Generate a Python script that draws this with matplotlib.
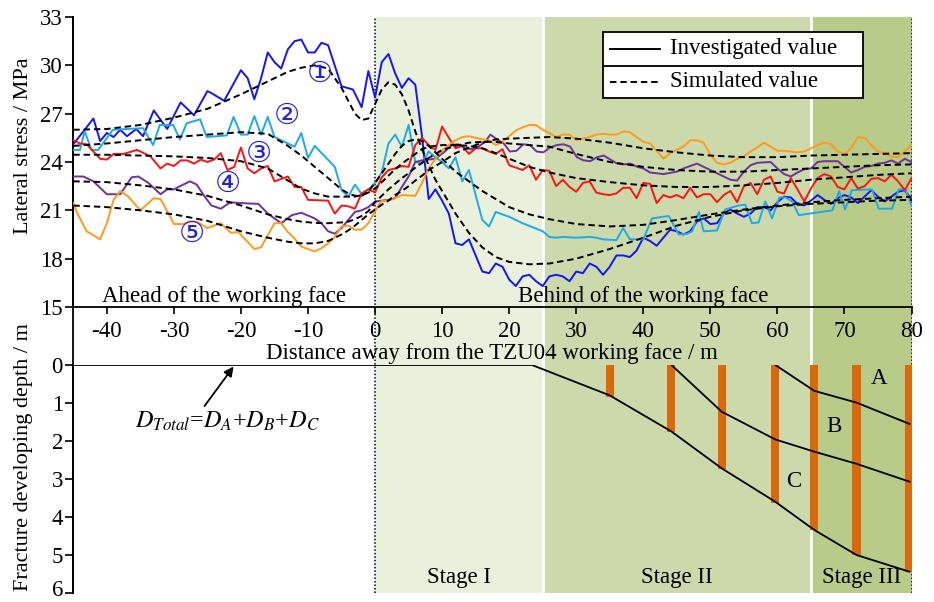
import matplotlib
matplotlib.use('Agg')
import matplotlib.pyplot as plt
from matplotlib.lines import Line2D
from matplotlib.patches import Rectangle
from matplotlib.transforms import ScaledTranslation

plt.rcParams['font.family'] = ['Liberation Serif', 'DejaVu Sans']
plt.rcParams['mathtext.fontset'] = 'stix'
plt.rcParams['axes.unicode_minus'] = False

# ---------------- data: investigated lateral stress (MPa) ----------------
blue_x = [-45, -42, -41, -40, -39, -38, -37, -35.6, -34.6, -33,
          -31, -29, -27, -25, -24.5, -22.5, -20, -19, -18, -17,
          -16, -15, -14, -13, -12, -11, -10, -9, -8, -7,
          -5, -3.3, -2, -1, 0, 1, 2, 3, 4, 5,
          6, 7, 8, 9, 10, 11, 12, 13, 14, 15,
          16, 17, 18, 19, 20, 21, 22, 23, 24, 25,
          26, 27, 28, 29, 30, 31, 32, 33, 34, 35,
          36, 37, 38, 39, 40, 41, 42, 43, 44, 45,
          46, 47, 48, 49, 50, 51, 52, 53, 54, 55,
          56, 57, 58, 59, 60, 61, 62, 63, 64, 65,
          66, 67, 68, 69, 70, 71, 72, 73, 74, 75,
          76, 77, 78, 79, 80]
blue_y = [25.1, 26.7, 25.3, 25.8, 25.55, 26.0, 25.6, 26.05, 25.6, 27.2,
          26.05, 27.7, 26.9, 28.4, 28.3, 27.8, 29.7, 29.2, 27.9, 29.2,
          30.8, 30.2, 29.8, 31.0, 31.5, 31.6, 30.8, 30.8, 31.4, 31.25,
          28.7, 28.5, 27.4, 29.65, 28.0, 30.2, 30.7, 29.5, 28.6, 29.2,
          28.8, 25.6, 21.7, 22.3, 21.6, 20.8, 18.95, 18.85, 19.2, 18.2,
          17.2, 17.1, 17.7, 17.5, 16.7, 16.3, 16.9, 17.0, 16.6, 16.3,
          16.9, 17.0, 16.9, 16.6, 17.2, 17.1, 17.7, 17.5, 17.0, 17.5,
          18.2, 18.2, 18.1, 18.5, 19.3, 19.1, 18.8, 19.3, 19.8, 19.7,
          19.5, 19.7, 20.3, 20.5, 20.15, 20.2, 20.8, 21.05, 20.8, 20.6,
          20.8, 21.2, 21.2, 21.0, 21.5, 21.85, 21.8, 21.4, 21.3, 21.6,
          21.95, 21.65, 21.4, 21.75, 21.95, 21.8, 21.45, 21.85, 22.25, 21.85,
          21.55, 21.85, 22.15, 22.25, 21.65]

cyan_x = [-45, -44, -43.3, -42.3, -41.3, -39.1, -37, -34.6, -33.1, -32.1,
          -30.1, -29.1, -28.1, -26.1, -25.1, -22.1, -21.1, -20, -19, -18,
          -17, -16, -15, -12, -11, -10, -9, -6, -5, -4,
          -3, -2, -1, 0, 1, 2, 3, 4, 5, 6,
          7, 8, 9, 10, 11, 12, 13, 14, 16, 17,
          18, 20, 22, 25, 26, 27, 28, 30, 32, 33,
          34, 36, 37, 38, 40, 41.3, 43.8, 45.3, 46.6, 47.3,
          48.3, 49, 51, 52.2, 54.2, 55.2, 56.2, 57.2, 58.2, 59.2,
          60.3, 61.2, 62.2, 63.2, 68.2, 69.2, 70.1, 71.1, 74.1, 75.1,
          77.1, 78.1, 79.1, 80]
cyan_y = [24.75, 24.75, 25.9, 24.75, 24.75, 26.0, 26.05, 26.1, 25.05, 26.3,
          26.3, 25.4, 26.4, 26.65, 25.55, 25.65, 26.8, 25.7, 25.7, 26.85,
          25.7, 26.8, 25.55, 24.95, 25.8, 24.25, 25.0, 23.7, 22.25, 21.85,
          22.6, 22.0, 22.3, 22.7, 23.35, 25.15, 25.7, 24.95, 26.3, 24.0,
          23.9, 24.65, 24.3, 24.0, 23.6, 24.3, 22.8, 23.5, 20.4, 20.0,
          20.9, 20.6, 20.2, 19.7, 19.35, 19.3, 19.35, 19.3, 19.35, 19.3,
          19.2, 19.15, 19.9, 19.2, 19.2, 20.5, 20.65, 19.5, 19.55, 19.7,
          20.9, 19.7, 19.75, 21.05, 21.3, 21.35, 20.2, 20.25, 21.55, 20.5,
          21.8, 21.8, 21.55, 20.7, 21.0, 22.2, 21.05, 22.25, 22.3, 21.1,
          21.1, 22.3, 22.3, 21.3]

red_x = [-45, -44, -43, -42, -41, -40, -39, -37.5, -35.5, -33.5,
         -32, -31, -30, -29, -28, -27, -26, -25, -24, -23,
         -22, -21, -20, -19, -18, -17, -16, -15, -13, -12,
         -11, -10, -7, -6, -5, -4, -3, -2, -1, 0,
         1, 2, 3, 4, 5, 6, 7, 8, 9, 10,
         11, 12, 13, 14, 15, 16, 17, 18, 19, 20,
         21, 22, 23, 24, 25, 26, 27, 28, 29, 30,
         31, 32, 33, 34, 35, 36, 37, 38, 39, 40,
         41, 42, 43, 44, 45, 46, 47, 48, 49, 50,
         51, 52, 53, 54, 55, 56, 57, 58, 59, 60,
         61, 62, 63, 64, 65, 66, 67, 68, 69, 70,
         71, 72, 73, 74, 75, 76, 77, 78, 79, 80]
red_y = [25.35, 25.15, 25.1, 24.65, 24.2, 24.15, 24.5, 24.5, 24.75, 24.35,
         23.6, 23.9, 23.75, 24.1, 24.1, 23.9, 24.15, 24.0, 24.15, 24.55,
         23.5, 23.7, 24.9, 23.6, 23.3, 23.6, 23.75, 22.8, 23.1, 22.45,
         22.45, 21.65, 21.6, 20.8, 21.3, 21.25, 21.1, 22.05, 22.3, 22.1,
         23.05, 23.5, 23.6, 23.75, 23.7, 25.05, 25.5, 25.05, 24.75, 26.2,
         25.5, 24.85, 25.0, 24.5, 24.85, 24.85, 24.65, 24.5, 24.8, 23.8,
         23.65, 23.5, 23.8, 22.9, 23.5, 23.45, 22.5, 22.9, 22.45, 22.15,
         22.7, 22.8, 22.1, 22.0, 21.95, 22.05, 22.4, 22.4, 21.75, 22.7,
         22.65, 21.45, 21.95, 21.8, 21.95, 21.75, 22.4, 21.8, 22.0, 22.0,
         21.5, 21.95, 22.2, 21.5, 22.5, 22.7, 22.0, 22.9, 23.1, 22.15,
         22.05, 23.0, 22.3, 21.55, 22.35, 23.0, 23.25, 23.1, 22.45, 22.3,
         23.0, 22.35, 22.5, 22.95, 23.0, 22.8, 23.2, 22.8, 22.25, 23.0]

purple_x = [-45, -43.5, -42, -40, -38, -36.3, -35.3, -33.8, -32, -31,
            -30, -28.6, -27.6, -26.6, -25.4, -24.4, -23, -21.6, -20, -17.4,
            -16, -14, -12.4, -11, -9, -8, -7, -6, -5, -4,
            -3, -2, -1, 0, 2, 3, 4, 5, 6, 7,
            9, 10.4, 11.4, 12.4, 13.4, 14.4, 15.4, 16.4, 17.2, 18.2,
            19.2, 20.1, 21.1, 22.1, 23.1, 24.1, 25.1, 26.1, 27.1, 28.1,
            29.1, 30.1, 31.1, 32.1, 33.1, 34.1, 35.1, 36.1, 37.1, 38.1,
            39.1, 40, 41, 42, 43, 45, 46, 47, 48, 49,
            50, 51, 52, 53, 54, 55, 56, 57, 59, 60,
            61, 62, 63, 64, 65, 66, 67, 69, 70, 71,
            72, 73, 74, 75, 76, 77, 78, 79, 80]
purple_y = [23.1, 23.1, 22.8, 22.0, 22.0, 23.05, 23.1, 22.7, 22.0, 22.3,
            22.3, 22.6, 22.8, 22.6, 21.85, 21.3, 21.1, 21.5, 21.45, 21.4,
            20.8, 20.2, 20.7, 20.85, 20.5, 20.2, 19.7, 19.55, 19.9, 20.4,
            20.9, 21.0, 21.2, 21.55, 21.65, 21.75, 22.45, 23.1, 24.0, 24.1,
            24.2, 24.65, 25.05, 25.1, 24.85, 24.8, 24.95, 25.25, 25.7, 25.4,
            25.15, 24.65, 24.7, 25.1, 25.05, 24.65, 24.6, 24.9, 25.05, 25.1,
            24.95, 24.3, 24.1, 24.05, 24.3, 24.4, 24.15, 23.9, 23.85, 23.9,
            23.7, 23.6, 23.35, 23.3, 23.25, 23.4, 23.6, 23.75, 23.9, 23.7,
            23.5, 23.3, 23.1, 22.9, 22.85, 23.4, 23.8, 23.95, 24.0, 23.6,
            23.25, 23.1, 23.35, 23.55, 23.6, 24.0, 24.05, 24.05, 23.7, 23.35,
            23.5, 23.7, 23.75, 23.9, 23.95, 24.1, 23.9, 24.2, 24.0]

orange_x = [-45, -44.5, -43, -41, -40, -39, -38, -36.8, -35, -33,
            -32, -30.6, -30, -28.6, -27.6, -26.6, -25, -23, -21.5, -20.4,
            -18, -17, -16, -15, -14, -13, -12, -11, -9, -8,
            -7, -6, -5, -4, -3, -2, -1, 0, 1, 2,
            3, 4, 6, 7, 8, 9, 10, 11, 12, 13,
            14, 16, 17, 18, 19, 20, 21, 22, 23, 24,
            25, 26, 27, 28, 29, 30, 31, 32, 33, 34,
            35, 36, 37, 38, 39, 40, 41, 42, 43, 44,
            45, 46, 47, 48, 49, 50, 51, 52, 53, 54,
            55, 56, 57, 58, 59, 60, 61, 62, 63, 64,
            65, 66, 67, 68, 69, 70, 71, 72, 73, 74,
            75, 76, 77, 78, 79, 80]
orange_y = [21.45, 20.9, 19.7, 19.2, 20.2, 21.65, 22.2, 21.85, 21.0, 21.75,
            21.7, 20.65, 20.15, 20.15, 20.3, 20.3, 19.9, 20.2, 19.6, 19.65,
            18.6, 18.7, 19.45, 20.2, 20.2, 19.65, 19.25, 18.75, 18.45, 18.65,
            18.95, 19.35, 20.0, 20.05, 19.8, 19.8, 20.2, 20.95, 21.6, 21.6,
            21.75, 21.95, 21.9, 22.7, 23.6, 24.2, 24.7, 25.05, 25.35, 25.55,
            25.6, 25.4, 25.35, 25.05, 25.25, 25.6, 25.95, 26.15, 26.3, 26.3,
            26.0, 25.8, 25.55, 25.7, 25.7, 25.35, 25.45, 25.55, 25.7, 25.75,
            25.7, 25.7, 25.9, 25.85, 25.55, 25.25, 25.15, 24.7, 24.2, 24.55,
            24.75, 24.95, 25.35, 25.35, 25.2, 24.45, 23.95, 23.85, 23.95, 24.2,
            24.35, 24.65, 24.9, 25.2, 24.95, 24.7, 24.7, 24.65, 24.6, 24.65,
            24.85, 25.05, 25.2, 25.1, 24.65, 24.5, 24.85, 25.55, 25.5, 25.05,
            24.65, 24.55, 24.35, 24.3, 24.65, 25.05]

# ---------------- data: simulated lateral stress (MPa) ----------------
sim_x = [-45, -40, -35, -30, -25, -20, -16, -13, -11, -9, -7, -5, -4, -3, -2,
         -1, 0, 1, 2, 3, 4, 5, 6, 7, 8, 9, 10, 12, 14, 16,
         18, 20, 23, 26, 30, 35, 40, 45, 50, 55, 60, 65, 70, 75, 80]
sim1 = [26.0, 26.05, 26.3, 26.75, 27.3, 28.2, 29.0, 29.6, 29.85, 30.0, 29.8, 28.6, 27.8, 27.0, 26.6,
        26.7, 27.6, 28.5, 28.95, 28.8, 28.2, 27.2, 25.9, 24.8, 23.8, 22.9, 22.2, 20.8, 19.6, 18.7,
        18.1, 17.8, 17.65, 17.7, 18.0, 18.6, 19.3, 20.05, 20.6, 21.0, 21.25, 21.4, 21.5, 21.6, 21.65]
sim2 = [25.0, 25.15, 25.35, 25.55, 25.7, 25.85, 25.75, 25.0, 24.4, 23.7, 23.0, 22.3, 22.05, 21.9, 21.9,
        22.15, 22.7, 23.3, 23.9, 24.5, 25.0, 25.3, 25.4, 25.3, 25.0, 24.6, 24.2, 23.4, 22.8, 22.2,
        21.7, 21.2, 20.75, 20.45, 20.15, 20.0, 20.1, 20.4, 20.75, 21.05, 21.3, 21.5, 21.65, 21.75, 21.85]
sim3 = [24.45, 24.45, 24.4, 24.35, 24.25, 24.05, 23.6, 22.85, 22.35, 22.05, 21.85, 21.85, 21.85, 21.85, 21.95,
        22.1, 22.35, 22.75, 23.15, 23.55, 23.9, 24.2, 24.5, 24.8, 24.95, 25.0, 25.05, 25.05, 25.0, 24.85,
        24.55, 24.2, 23.7, 23.35, 23.0, 22.75, 22.55, 22.45, 22.45, 22.55, 22.7, 22.9, 23.05, 23.2, 23.3]
sim4 = [22.8, 22.75, 22.55, 22.3, 21.9, 21.3, 20.75, 20.45, 20.3, 20.22, 20.2, 20.25, 20.3, 20.45, 20.65,
        20.95, 21.5, 21.9, 22.3, 22.65, 23.0, 23.3, 23.65, 23.95, 24.25, 24.5, 24.75, 25.0, 25.2, 25.25,
        25.25, 25.15, 25.05, 24.95, 24.5, 24.0, 23.7, 23.5, 23.4, 23.4, 23.5, 23.6, 23.7, 23.8, 23.85]
sim5 = [21.3, 21.2, 21.0, 20.75, 20.35, 19.7, 19.3, 19.05, 18.95, 18.95, 19.1, 19.5, 19.75, 20.05, 20.4,
        20.75, 21.05, 21.35, 21.6, 21.95, 22.2, 22.5, 22.85, 23.15, 23.5, 23.75, 24.0, 24.55, 24.9, 25.2,
        25.4, 25.45, 25.5, 25.55, 25.45, 25.2, 24.85, 24.6, 24.4, 24.3, 24.3, 24.4, 24.45, 24.5, 24.55]

circle_labels = ['\u2460', '\u2461', '\u2462', '\u2463', '\u2464']
circle_x = [-8.2, -13.2, -17.3, -22.0, -27.3]
circle_y = [29.5, 26.85, 24.5, 22.65, 19.55]

# ---------------- data: fracture developing depth (m) ----------------
total_x = [-45, 23.4, 35.0, 44.2, 51.7, 59.7, 65.5, 71.8, 79.7]
total_d = [0, 0, 0.8, 1.75, 2.72, 3.6, 4.34, 5.0, 5.44]
ab_x = [44.2, 51.7, 59.7, 65.5, 71.8, 79.7]
ab_d = [0, 1.23, 1.96, 2.28, 2.6, 3.07]
a_x = [59.7, 65.5, 71.8, 79.7]
a_d = [0, 0.68, 0.99, 1.55]
bar_x = [35.0, 44.2, 51.7, 59.7, 65.5, 71.8, 79.7]
bar_d = [0.83, 1.77, 2.74, 3.62, 4.34, 5.0, 5.44]

stage_edges = [0, 25, 65, 80]
stage_names = ['Stage I', 'Stage II', 'Stage III']
stage_colors = ['#e9f0dc', '#ccdaab', '#b8cb89']

x_ticks = [-40, -30, -20, -10, 0, 10, 20, 30, 40, 50, 60, 70, 80]
y1_ticks = [15, 18, 21, 24, 27, 30, 33]
y2_ticks = [0, 1, 2, 3, 4, 5, 6]

# ---------------- figure ----------------
W, H = 934, 602
FS = 16.5
fig = plt.figure(figsize=(W / 100, H / 100), dpi=100)


def rect(left, top, right, bottom):
    return [left / W, 1 - bottom / H, (right - left) / W, (bottom - top) / H]


bg = fig.add_axes(rect(73.3, 17, 911.5, 593))
ax1 = fig.add_axes(rect(73.3, 17, 911.5, 307), facecolor='none')
ax2 = fig.add_axes(rect(73.3, 365, 911.5, 593), facecolor='none')

# background stages
bg.set_xlim(-45, 80)
bg.set_ylim(0, 1)
for i in range(3):
    bg.axvspan(stage_edges[i], stage_edges[i + 1], color=stage_colors[i], lw=0)
bg.axvline(stage_edges[1], color='white', lw=2)
bg.axvline(stage_edges[2], color='white', lw=2)
bg.axvline(0, color='black', lw=1.1, ls=(0, (1, 1.3)))
bg.axvline(80, color='black', lw=1.1, ls=(0, (1, 1.3)))
for s in ['top', 'right', 'bottom']:
    bg.spines[s].set_visible(False)
bg.spines['left'].set_linewidth(1.3)
bg.set_xticks([])
bg.set_yticks([])

# top panel
inv_colors = ['#1414f5', '#1eaaea', '#fa1414', '#7030a0', '#ff9a1a']
for xs, ys, c in [(blue_x, blue_y, inv_colors[0]), (cyan_x, cyan_y, inv_colors[1]),
                  (red_x, red_y, inv_colors[2]), (purple_x, purple_y, inv_colors[3]),
                  (orange_x, orange_y, inv_colors[4])]:
    ax1.plot(xs, ys, color=c, lw=1.4, zorder=3)
for s in [sim1, sim2, sim3, sim4, sim5]:
    ax1.plot(sim_x, s, color='black', lw=1.4, ls=(0, (3.3, 2.0)), zorder=4)

for lab, cx, cy in zip(circle_labels, circle_x, circle_y):
    ax1.text(cx, cy, lab, color='#2222dd', fontsize=21, ha='center', va='center',
             family=['DejaVu Sans'], zorder=5)

ax1.set_xlim(-45, 80)
ax1.set_ylim(15, 33)
ax1.set_yticks(y1_ticks)
ax1.set_xticks(x_ticks)
ax1.set_xticklabels([str(t) for t in x_ticks])
ax1.tick_params(axis='y', direction='out', length=6, width=1.2, pad=1.5, labelsize=FS)
ax1.tick_params(axis='x', direction='out', length=5, width=1.2, pad=5, labelsize=FS)
for s in ['top', 'right']:
    ax1.spines[s].set_visible(False)
ax1.spines['left'].set_linewidth(1.3)
ax1.spines['bottom'].set_linewidth(1.3)
ax1.set_ylabel('Lateral stress / MPa', fontsize=16)
ax1.yaxis.set_label_coords(-0.048, 0.555)
ax1.set_xlabel('Distance away from the TZU04 working face / m', fontsize=FS, labelpad=1)

ax1.text(-22.5, 15.33, 'Ahead of the working face', fontsize=FS, ha='center', va='baseline')
ax1.text(40.0, 15.33, 'Behind of the working face', fontsize=FS, ha='center', va='baseline')

# legend drawn as a two-row table
lx0, lx1 = 0.6323, 0.9418
ly0, ym, ly1 = 0.7197, 0.8321, 0.9472
tr = ax1.transAxes
ax1.add_patch(Rectangle((lx0, ly0), lx1 - lx0, ly1 - ly0, transform=tr,
                        facecolor='white', edgecolor='black', lw=1.3, zorder=6))
ax1.add_line(Line2D([lx0, lx1], [ym, ym], transform=tr, color='black', lw=1.3, zorder=7))
ax1.add_line(Line2D([0.6403, 0.7000], [0.8897, 0.8897], transform=tr, color='black', lw=1.4, zorder=7))
ax1.add_line(Line2D([0.6403, 0.7000], [0.7759, 0.7759], transform=tr, color='black', lw=1.4,
                    ls=(0, (3.3, 2.0)), zorder=7))
ax1.text(0.7119, 0.8897, 'Investigated value', transform=tr, fontsize=FS, va='center', zorder=8)
ax1.text(0.7119, 0.7759, 'Simulated value', transform=tr, fontsize=FS, va='center', zorder=8)

# bottom panel
ax2.bar(bar_x, bar_d, width=1.2, bottom=0, color='#dc680c', zorder=2)
ax2.plot(total_x, total_d, color='black', lw=1.3, zorder=3)
ax2.plot(ab_x, ab_d, color='black', lw=1.3, zorder=3)
ax2.plot(a_x, a_d, color='black', lw=1.3, zorder=3)
ax2.set_xlim(-45, 80)
ax2.set_ylim(6, 0)
ax2.set_yticks(y2_ticks)
ax2.set_yticklabels([str(t) for t in y2_ticks])
ax2.set_xticks([])
ax2.tick_params(axis='y', direction='out', length=6, width=1.2, pad=1.5, labelsize=FS)
# keep the lowest tick label fully inside the canvas
last_lab = ax2.get_yticklabels()[-1]
last_lab.set_transform(last_lab.get_transform() + ScaledTranslation(0, 3.5 / 72, fig.dpi_scale_trans))
for s in ['top', 'right', 'bottom']:
    ax2.spines[s].set_visible(False)
ax2.spines['left'].set_linewidth(1.3)
ax2.set_ylabel('Fracture developing depth / m', fontsize=16)
ax2.yaxis.set_label_coords(-0.048, 0.595)

ax2.text(75.1, 0.35, 'A', fontsize=FS, ha='center', va='center')
ax2.text(68.5, 1.63, 'B', fontsize=FS, ha='center', va='center')
ax2.text(62.4, 3.07, 'C', fontsize=FS, ha='center', va='center')
for i in range(3):
    ax2.text((stage_edges[i] + stage_edges[i + 1]) / 2, 5.75, stage_names[i],
             fontsize=FS, ha='center', va='baseline')

ax2.annotate(r'$D_{Total}$=$D_A$+$D_B$+$D_C$', xy=(-21.1, 0.04), xytext=(-22.0, 1.49),
             fontsize=FS + 1, ha='center', va='center',
             arrowprops=dict(arrowstyle='-|>', color='black', lw=1.3, shrinkA=1, shrinkB=0,
                             relpos=(0.36, 1.0), mutation_scale=14))

fig.savefig('out.png', dpi=100)
